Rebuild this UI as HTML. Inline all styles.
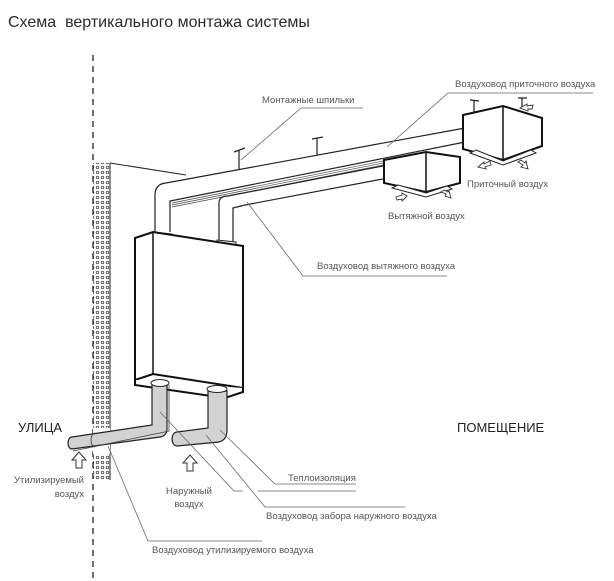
<!DOCTYPE html>
<html><head><meta charset="utf-8"><style>
html,body{margin:0;padding:0;background:#fff;}
svg{display:block;}
text{font-family:"Liberation Sans",sans-serif;}
</style></head><body>
<svg width="614" height="581" viewBox="0 0 614 581" xmlns="http://www.w3.org/2000/svg">
<text x="8" y="27" font-size="16" fill="#2a2a2a">Схема&#160; вертикального монтажа системы</text>

<line x1="93" y1="55" x2="93" y2="581" stroke="#222" stroke-width="1.3" stroke-dasharray="6,5"/>
<defs>
<pattern id="dots" width="5" height="5" patternUnits="userSpaceOnUse">
<circle cx="2.5" cy="2.5" r="1.3" fill="none" stroke="#333" stroke-width="0.7"/>
</pattern>
</defs>
<rect x="93" y="163" width="17" height="317" fill="url(#dots)"/>
<line x1="110" y1="163" x2="110" y2="480" stroke="#222" stroke-width="1"/>
<rect x="93" y="428" width="17" height="26" fill="#fff"/>
<line x1="110" y1="163" x2="186" y2="175" stroke="#222" stroke-width="1"/>

<path d="M155 232 L155 195 Q155 184 166 183 L465 128" fill="none" stroke="#222" stroke-width="1.2"/>
<path d="M170 232 L170 201 L465 142" fill="none" stroke="#222" stroke-width="1.2"/>
<path d="M172 203 L388 160 M172 205 L388 162 M172 207 L388 164" fill="none" stroke="#444" stroke-width="0.7"/>
<path d="M219 240 L219 203 Q219 196 228 196 L388 165" fill="none" stroke="#222" stroke-width="1.2"/>
<path d="M233 242 L233 208 L245 205 L388 178" fill="none" stroke="#222" stroke-width="1.2"/>
<path d="M153 232 L153 238 L172 240 L172 234 Z" fill="#fff" stroke="#222" stroke-width="1"/>
<path d="M217 240 L217 246 L236 248 L236 242 Z" fill="#fff" stroke="#222" stroke-width="1"/>

<g stroke="#222" stroke-width="1.2" fill="none">
<path d="M239 170 L239 150 M234 152 L245 148"/>
<path d="M317 155 L317 138 M312 139 L323 137"/>
<path d="M474 112 L474 100 M470 100 L479 101"/>
<path d="M522 107 L522 98 M518 98 L527 98"/>
</g>

<path d="M135 238 L153 232 L243 246 L243 388 L153 374 L135 380 Z" fill="#fff" stroke="#111" stroke-width="2"/>
<path d="M153 232 L153 374" stroke="#111" stroke-width="1.5"/>
<path d="M135 380 L135 385 L225 398 L243 392 L243 388" fill="#fff" stroke="#111" stroke-width="2"/>

<path d="M152 385 L152 425 L72 437 A4 6 0 0 0 72 449 L160 437 Q167 436 167 428 L167 385 Z" fill="#d2d2d2" stroke="#222" stroke-width="1.2"/>
<path d="M169 385 L169 431 L73 451" fill="none" stroke="#444" stroke-width="0.8"/>
<path d="M95 433 A4 7 0 0 0 95 447" fill="none" stroke="#333" stroke-width="0.8"/>
<ellipse cx="160" cy="383" rx="9" ry="3.5" fill="#fff" stroke="#222" stroke-width="1"/>
<path d="M208 391 L208 428 L177 432 A5 7 0 0 0 177 446 L219 442 Q227 440 227 430 L227 391 Z" fill="#d2d2d2" stroke="#222" stroke-width="1.2"/>
<ellipse cx="217" cy="389" rx="10" ry="3.5" fill="#fff" stroke="#222" stroke-width="1"/>

<path d="M463 115 L503 106 L542 118 L542 146 L503 160 L463 149 Z" fill="#fff" stroke="#111" stroke-width="2"/>
<line x1="503" y1="106" x2="503" y2="160" stroke="#111" stroke-width="1.5"/>
<path d="M476 150 L503 161 L531 150 L536 153 L503 165 L470 153 Z" fill="#fff" stroke="#222" stroke-width="1"/>
<path d="M384 160 L426 152 L460 157 L460 183 L426 192 L384 183 Z" fill="#fff" stroke="#111" stroke-width="2"/>
<line x1="426" y1="152" x2="426" y2="192" stroke="#111" stroke-width="1.5"/>
<path d="M398 185 L426 193 L447 186 L452 189 L426 197 L392 188 Z" fill="#fff" stroke="#222" stroke-width="1"/>

<g fill="#fff" stroke="#333" stroke-width="0.9">
<path d="M478 167 L484 162 L484 164 L490 161 L491 165 L485 167 L486 169 Z"/>
<path d="M528 169 L521 167 L523 165 L518 162 L521 160 L525 163 L526 161 Z"/>
<path d="M396 197 L402 195 L402 193 L407 196 L402 201 L402 199 L397 200 Z"/>
<path d="M451 198 L445 196 L446 194 L441 192 L444 190 L448 192 L449 191 Z"/>
<path d="M520 108 L527 104 L527 106 L533 105 L532 109 L528 109 L528 111 Z"/>
</g>

<g fill="#fff" stroke="#333" stroke-width="1">
<path d="M79 452 L72 460 L76 460 L76 468 L82 468 L82 460 L86 460 Z"/>
<path d="M190 455 L183 463 L187 463 L187 471 L193 471 L193 463 L197 463 Z"/>
</g>

<g stroke="#666" stroke-width="0.8" fill="none">
<path d="M241 160 L301 108 L363 108"/>
<path d="M387 147 L448 93 L593 93"/>
<path d="M247 202 L303 276 L447 276"/>
<path d="M160 412 L234 491 L243 491 M258 491 L356 491"/>
<path d="M220 430 L275 484 L356 484"/>
<path d="M206 435 L265 507 L405 507"/>
<path d="M108 446 L148 541 L262 541"/>
</g>

<g font-size="9.5" fill="#555">
<text x="262" y="103">Монтажные шпильки</text>
<text x="455" y="87">Воздуховод приточного воздуха</text>
<text x="467" y="187">Приточный воздух</text>
<text x="388" y="219">Вытяжной воздух</text>
<text x="317" y="269">Воздуховод вытяжного воздуха</text>
<text x="288" y="481">Теплоизоляция</text>
<text x="266" y="519">Воздуховод забора наружного воздуха</text>
<text x="152" y="553">Воздуховод утилизируемого воздуха</text>
<text x="84" y="483" text-anchor="end">Утилизируемый</text>
<text x="84" y="497" text-anchor="end">воздух</text>
<text x="189" y="494" text-anchor="middle">Наружный</text>
<text x="189" y="507" text-anchor="middle">воздух</text>
</g>
<text x="18" y="432" font-size="13" fill="#222">УЛИЦА</text>
<text x="457" y="432" font-size="13" fill="#222">ПОМЕЩЕНИЕ</text>
</svg>
</body></html>
